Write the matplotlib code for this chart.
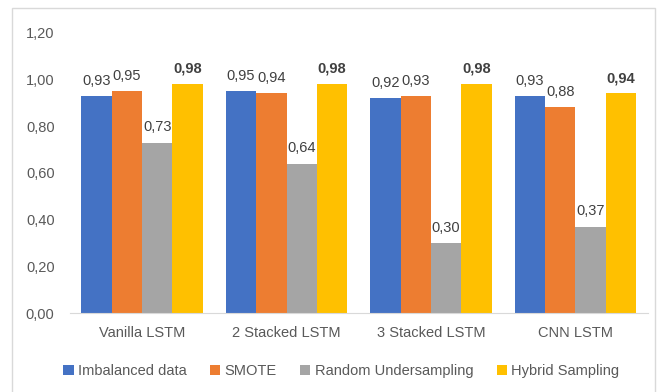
import matplotlib
matplotlib.use('Agg')
import numpy as np
import matplotlib.pyplot as plt
from matplotlib.patches import Rectangle

models = ['Vanilla LSTM', '2 Stacked LSTM', '3 Stacked LSTM', 'CNN LSTM']
series_names = ['Imbalanced data', 'SMOTE', 'Random Undersampling', 'Hybrid Sampling']
imbalanced = [0.93, 0.95, 0.92, 0.93]
smote = [0.95, 0.94, 0.93, 0.88]
random_under = [0.73, 0.64, 0.30, 0.37]
hybrid = [0.98, 0.98, 0.98, 0.94]
colors = ['#4472C4', '#ED7D31', '#A5A5A5', '#FFC000']

plt.rcParams['font.family'] = ['Liberation Sans', 'DejaVu Sans']

fig = plt.figure(figsize=(6.65, 3.92), dpi=100)
ax = fig.add_axes([0.105, 0.2015, 0.869, 0.715])

# chart border like excel
fig.patches.append(Rectangle((12 / 665, -0.05), 643 / 665, 1.05 - 8 / 392,
                             transform=fig.transFigure, fill=False,
                             edgecolor='#D9D9D9', linewidth=1))

x = np.arange(len(models))
w = 0.21
all_series = [imbalanced, smote, random_under, hybrid]
for i, vals in enumerate(all_series):
    pos = x + (i - 1.5) * w
    ax.bar(pos, vals, w, color=colors[i], label=series_names[i])
    for px, v in zip(pos, vals):
        ax.text(px, v + 0.035, f'{v:.2f}'.replace('.', ','), ha='center', va='bottom',
                fontsize=10.5, color='#404040',
                fontweight='bold' if i == 3 else 'normal')

ax.set_xlim(-0.5, 3.5)
ax.set_ylim(0, 1.2)
ax.set_yticks(np.arange(0, 1.21, 0.2))
ax.set_yticklabels([f'{t:.2f}'.replace('.', ',') for t in np.arange(0, 1.21, 0.2)])
ax.set_xticks(x)
ax.set_xticklabels(models)
ax.tick_params(axis='both', length=0, labelsize=10.5, labelcolor='#595959')
ax.tick_params(axis='x', pad=9)
ax.tick_params(axis='y', pad=11)
for s in ['top', 'right', 'left']:
    ax.spines[s].set_visible(False)
ax.spines['bottom'].set_color('#D9D9D9')

ax.legend(loc='upper center', bbox_to_anchor=(0.47, -0.135), ncol=4, frameon=False,
          fontsize=10.5, labelcolor='#595959', handlelength=0.7, handleheight=0.7,
          handletextpad=0.3, columnspacing=1.6)

plt.savefig('out.png', dpi=100)
